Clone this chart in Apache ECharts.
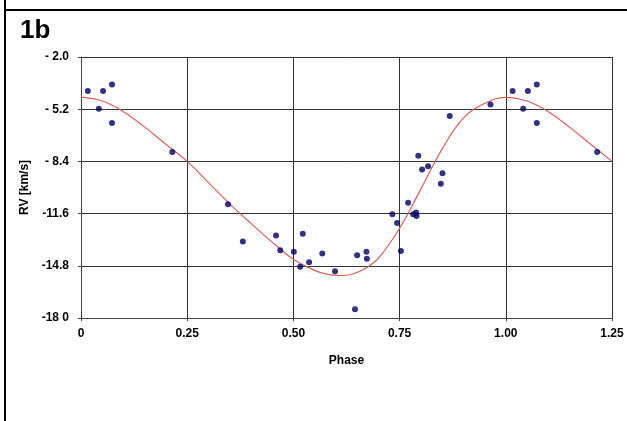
<!DOCTYPE html>
<html>
<head>
<meta charset="utf-8">
<script src="https://cdn.jsdelivr.net/npm/echarts@6/dist/echarts.min.js"></script>
<style>
  html, body { margin: 0; padding: 0; background: #fff; }
  #chart { width: 627px; height: 421px; }
</style>
</head>
<body>
<div id="chart"></div>
<script>
// observed points (phase, RV km/s)
const obsPhase = [0.016, 0.042, 0.052, 0.073, 0.073, 0.215, 0.346, 0.381, 0.459, 0.469,
    0.501, 0.516, 0.522, 0.537, 0.568, 0.598, 0.645, 0.650, 0.672, 0.673,
    0.733, 0.744, 0.753, 0.770, 0.782, 0.789, 0.790, 0.794, 0.803, 0.817,
    0.847, 0.851, 0.868, 0.964, 1.016, 1.041, 1.052, 1.073, 1.073, 1.215];
const obsRV = [-4.08, -5.18, -4.08, -3.69, -6.04, -7.83, -11.03, -13.31, -12.95, -13.84,
    -13.94, -14.86, -12.83, -14.58, -14.05, -15.13, -17.47, -14.15, -13.94, -14.37,
    -11.64, -12.17, -13.90, -10.93, -11.64, -11.54, -11.74, -8.05, -8.89, -8.70,
    -9.77, -9.13, -5.61, -4.91, -4.08, -5.18, -4.08, -3.69, -6.04, -7.83];

// fitted curve
const fitPhase = [0, 0.05, 0.10, 0.15, 0.20, 0.25, 0.30, 0.35, 0.40, 0.45, 0.50, 0.55, 0.58, 0.61,
    0.64, 0.67, 0.70, 0.75, 0.80, 0.85, 0.90, 0.95, 1.00, 1.05, 1.10, 1.15, 1.20, 1.25];
const fitRV = [-4.46, -4.7, -5.35, -6.3, -7.35, -8.4, -9.7, -11.0, -12.2, -13.35, -14.4, -15.08, -15.33, -15.4,
    -15.3, -14.95, -14.35, -12.5, -10.1, -7.65, -5.75, -4.85, -4.47, -4.7, -5.35, -6.3, -7.35, -8.4];

const yTicks = [-18, -14.8, -11.6, -8.4, -5.2, -2];
const yTickLabels = ["-18 0", "-14.8", "-11.6", "- 8.4", "- 5.2", "- 2.0"];
const xTickLabels = ["0", "0.25", "0.50", "0.75", "1.00", "1.25"];

const chart = echarts.init(document.getElementById("chart"));
const labelFont = { fontFamily: "Liberation Sans", fontWeight: "bold", fontSize: 12, color: "#000" };

chart.setOption({
    animation: false,
    title: {
        text: "1b",
        left: 15,
        top: 13,
        textStyle: { fontFamily: "Liberation Sans", fontWeight: "bold", fontSize: 26, color: "#000" }
    },
    graphic: [
        { type: "line", shape: { x1: 5, y1: 0, x2: 5, y2: 421 }, style: { stroke: "#000", lineWidth: 2 } },
        { type: "line", shape: { x1: 4, y1: 10, x2: 627, y2: 10 }, style: { stroke: "#000", lineWidth: 2 } }
    ],
    grid: { left: 81, right: 15, top: 57, bottom: 103 },
    xAxis: {
        type: "value",
        min: 0,
        max: 1.25,
        interval: 0.25,
        name: "Phase",
        nameLocation: "middle",
        nameGap: 37,
        nameTextStyle: labelFont,
        axisLine: { lineStyle: { color: "#444", width: 1 } },
        axisTick: { show: true, length: 3, lineStyle: { color: "#444" } },
        axisLabel: Object.assign({}, labelFont, {
            margin: 10,
            formatter: v => xTickLabels[Math.round(v / 0.25)]
        }),
        splitLine: { show: true, lineStyle: { color: "#333", width: 1 } }
    },
    yAxis: {
        type: "value",
        min: -18,
        max: -2,
        name: "RV [km/s]",
        nameLocation: "middle",
        nameRotate: 90,
        nameGap: 44,
        nameTextStyle: labelFont,
        axisLine: { show: true, lineStyle: { color: "#444", width: 1 } },
        axisTick: { show: true, length: 3, customValues: yTicks, lineStyle: { color: "#444" } },
        axisLabel: Object.assign({}, labelFont, {
            margin: 12,
            customValues: yTicks,
            formatter: v => {
                const i = yTicks.findIndex(t => Math.abs(t - v) < 0.01);
                return i >= 0 ? yTickLabels[i] : "";
            }
        }),
        splitLine: { show: true, lineStyle: { color: "#333", width: 1 } }
    },
    series: [
        {
            type: "line",
            data: fitPhase.map((p, i) => [p, fitRV[i]]),
            smooth: 0.4,
            showSymbol: false,
            lineStyle: { color: "#d0605a", width: 1.2 },
            z: 2
        },
        {
            type: "scatter",
            data: obsPhase.map((p, i) => [p, obsRV[i]]),
            symbolSize: 6,
            itemStyle: { color: "#00005c" },
            z: 3
        }
    ]
});
</script>
</body>
</html>
